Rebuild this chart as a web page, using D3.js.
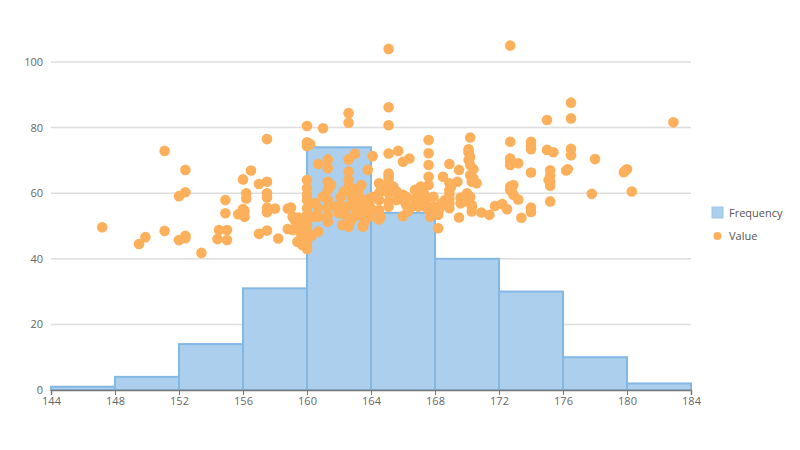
<!DOCTYPE html>
<meta charset="utf-8">
<style>
  body { margin: 0; background: #fff; }
  text { font-family: "Open Sans", sans-serif; }
</style>
<svg width="800" height="450"></svg>
<script src="https://d3js.org/d3.v7.min.js"></script>
<script>

// histogram bins (height, cm) and counts
var binEdges = [144, 148, 152, 156, 160, 164, 168, 172, 176, 180, 184];
var frequency = [1, 4, 14, 31, 74, 54, 40, 30, 10, 2];

var xTicks = [144, 148, 152, 156, 160, 164, 168, 172, 176, 180, 184];
var yTicks = [0, 20, 40, 60, 80, 100];

// scatter points: height and value
var heights = [
  147.2,
  149.5, 149.9, 151.1, 151.1,
  152.0, 152.4, 152.4, 152.0, 152.4, 152.4, 153.4, 154.4, 154.5, 155.0, 155.0, 154.9, 154.9, 155.7,
  156.1, 156.1, 156.2, 156.2, 156.0, 156.5, 157.0, 157.5, 157.5, 157.5, 157.5, 157.5, 157.5, 158.0, 157.0, 157.5,
  158.2, 158.8, 159.0, 158.8, 159.25, 159.45, 159.6, 159.1, 159.6, 159.4, 159.8, 159.8, 159.1, 156.0, 159.7,
  160.0, 160.0, 160.0, 160.0, 160.0, 160.0, 160.0, 160.0, 160.0, 160.0, 160.0, 160.0, 160.0,
  160.2, 160.4, 160.7, 160.7, 160.7, 160.7, 161.0,
  161.3, 161.3, 161.3, 161.3, 161.3, 161.3, 161.3, 161.3,
  162.1, 162.1, 162.1, 162.4, 162.2, 162.0, 162.2,
  162.6, 162.6, 162.6, 162.6, 162.6, 162.6, 162.6,
  162.7, 162.8, 162.8, 162.9, 163.0, 163.0,
  163.1, 163.2, 163.2, 163.3, 163.3, 163.5, 163.5, 163.5,
  163.6, 163.7, 163.8, 163.8, 163.9, 163.9, 163.9,
  160.0, 160.0, 160.3, 160.5, 161.0, 161.5, 162.3, 162.5, 163.0, 163.4, 161.8,
  164.1, 164.1, 164.1, 164.5, 164.5, 164.5, 164.5, 164.5, 164.6, 164.8, 164.6,
  165.1, 165.1, 165.1, 165.1, 165.1, 165.1, 165.1, 165.1, 165.1, 165.1, 165.1,
  165.4, 165.4, 165.6, 165.6, 165.7,
  166.0, 166.0, 166.0, 166.0, 166.1, 166.2, 166.2, 166.3, 166.4, 166.5, 166.75, 166.75, 166.95,
  167.1, 167.1, 167.1, 167.3, 167.4, 167.4, 167.4, 167.6, 167.6, 167.6, 167.6, 167.6, 167.6, 167.7, 167.9, 167.9,
  168.2, 168.2, 168.2, 168.4, 168.5, 168.9, 168.9, 168.9, 168.9, 168.9, 168.9, 169.4, 169.5, 169.5, 169.6, 169.6,
  170.1, 170.1, 170.1, 170.2, 170.2, 170.2, 170.3, 170.4, 170.4, 170.2, 170.3, 170.3, 170.3, 170.9, 171.4, 171.75,
  170.2, 168.9, 169.0, 170.0, 168.6, 169.8, 170.6, 168.3,
  172.2, 172.5, 172.7, 172.7, 172.7, 172.7, 172.7, 172.9, 172.7, 172.9, 173.2, 173.2, 173.4,
  174.0, 174.0, 174.0, 174.0, 174.0, 175.0, 175.0, 175.4, 175.2, 175.2, 175.2, 175.2, 175.2,
  172.8, 172.7, 174.0, 175.1,
  176.5, 176.5, 176.5, 176.5, 176.2, 178.0, 177.8, 179.9, 179.8, 176.3,
  180.3, 182.9, 180.0
];

var values = [
  49.6,
  44.5, 46.6, 72.9, 48.5,
  59.1, 60.3, 67.1, 45.7, 47.0, 46.3, 41.8, 46.0, 48.8, 48.8, 45.7, 57.9, 53.9, 53.6,
  54.6, 52.8, 60.0, 58.4, 64.2, 66.9, 62.8, 63.5, 76.5, 60.0, 58.7, 55.6, 54.2, 55.3, 47.6, 48.6,
  46.2, 55.3, 55.6, 49.1, 51.6, 52.6, 50.3, 48.8, 47.8, 45.2, 46.7, 49.8, 52.8, 55.2, 44.2,
  80.5, 75.5, 74.4, 64.0, 59.5, 57.9, 55.4, 53.4, 51.3, 48.8, 46.2, 44.7, 43.0,
  75.0, 52.8, 68.9, 55.4, 52.8, 48.3, 79.8,
  70.3, 67.6, 63.5, 61.0, 57.9, 55.9, 53.4, 51.3,
  58.9, 56.4, 54.4, 53.4, 50.3, 53.9, 54.9,
  84.4, 81.5, 70.3, 66.6, 64.0, 62.0, 49.8,
  51.3, 59.5, 58.4, 55.9, 72.0, 61.3,
  57.9, 60.5, 55.9, 56.4, 53.4, 50.3, 49.8, 57.9,
  51.3, 55.4, 67.1, 57.9, 58.4, 52.8, 56.4,
  61.5, 50.0, 47.0, 57.0, 59.0, 62.5, 60.5, 55.8, 53.0, 62.5, 56.0,
  71.3, 58.9, 54.9, 63.0, 60.0, 52.0, 57.9, 54.9, 52.8, 62.0, 60.7,
  104.0, 86.2, 80.7, 72.1, 66.0, 65.0, 64.0, 62.0, 60.0, 57.4, 55.9,
  62.0, 60.7, 60.5, 57.9, 72.9,
  69.6, 59.5, 57.9, 53.0, 58.4, 56.4, 58.9, 54.4, 70.6, 55.9, 61.0, 58.4, 55.9,
  62.0, 59.5, 56.9, 60.0, 58.9, 57.4, 55.9, 76.2, 72.2, 68.6, 65.0, 62.5, 54.9, 52.8, 58.9, 55.9,
  49.3, 53.4, 54.4, 56.9, 65.0, 68.9, 63.0, 61.0, 58.4, 56.9, 55.4, 63.5, 67.1, 52.6, 58.7, 56.9,
  73.4, 72.4, 70.1, 77.0, 68.6, 65.5, 63.5, 64.5, 67.3, 58.9, 55.9, 54.4, 56.4, 54.1, 53.4, 56.1,
  71.0, 59.8, 62.0, 60.0, 57.8, 57.5, 63.0, 55.5,
  56.7, 55.1, 105.0, 75.7, 70.6, 68.6, 62.0, 62.5, 61.0, 59.5, 58.1, 69.1, 52.5,
  75.7, 73.4, 66.3, 55.6, 54.3, 82.3, 73.2, 72.5, 67.0, 65.3, 63.5, 62.3, 57.5,
  60.5, 69.5, 74.5, 64.0,
  87.6, 82.8, 73.5, 71.6, 66.9, 70.4, 59.8, 66.9, 66.4, 67.3,
  60.5, 81.6, 67.3
];

var legendLabels = ["Frequency", "Value"];

var svg = d3.select("svg");

var x = d3.scaleLinear()
    .domain([144, 184])
    .range([51, 691]);

var y = d3.scaleLinear()
    .domain([0, 100])
    .range([390, 62]);

// horizontal grid lines
svg.append("g")
    .selectAll("line")
    .data(yTicks.filter(function(d) { return d > 0; }))
    .enter().append("line")
      .attr("x1", x(144))
      .attr("x2", x(184))
      .attr("y1", function(d) { return y(d); })
      .attr("y2", function(d) { return y(d); })
      .attr("stroke", "#dedede")
      .attr("stroke-width", 1.5);

// y axis labels
var yAxis = svg.append("g")
    .attr("transform", "translate(" + (x(144) - 8) + ",0)")
    .call(d3.axisLeft(y).tickValues(yTicks).tickSize(0).tickPadding(0));
yAxis.select(".domain").remove();
yAxis.selectAll("text")
    .attr("fill", "#666")
    .style("font-size", "11px")
    .style("font-family", "'Open Sans', sans-serif");

// histogram bars
var bins = frequency.map(function(f, i) { return {x0: binEdges[i], x1: binEdges[i + 1], count: f}; });

svg.append("g")
    .selectAll("rect")
    .data(bins)
    .enter().append("rect")
      .attr("x", function(d) { return x(d.x0); })
      .attr("width", function(d) { return x(d.x1) - x(d.x0); })
      .attr("y", function(d) { return y(d.count); })
      .attr("height", function(d) { return y(0) - y(d.count); })
      .attr("fill", "#abcfed")
      .attr("stroke", "#84b8e4")
      .attr("stroke-width", 2);

// x axis
var xAxis = svg.append("g")
    .attr("transform", "translate(0," + y(0) + ")")
    .call(d3.axisBottom(x).tickValues(xTicks).tickSize(5).tickPadding(2).tickFormat(d3.format("d")));
xAxis.select(".domain")
    .attr("stroke", "#777")
    .attr("stroke-width", 1.5);
xAxis.selectAll(".tick line").attr("stroke", "#777");
xAxis.selectAll("text")
    .attr("fill", "#666")
    .style("font-size", "11px")
    .style("font-family", "'Open Sans', sans-serif");

// scatter points
svg.append("g")
    .selectAll("circle")
    .data(heights.map(function(h, i) { return [h, values[i]]; }))
    .enter().append("circle")
      .attr("cx", function(d) { return x(d[0]); })
      .attr("cy", function(d) { return y(d[1]); })
      .attr("r", 5.3)
      .attr("fill", "#fcb05b");

// legend
var legend = svg.append("g")
    .attr("transform", "translate(712,213)");

legend.append("rect")
    .attr("x", 0)
    .attr("y", -6)
    .attr("width", 11)
    .attr("height", 11)
    .attr("fill", "#abcfed")
    .attr("stroke", "#9cc6ea");

legend.append("circle")
    .attr("cx", 5.5)
    .attr("cy", 23)
    .attr("r", 4)
    .attr("fill", "#fcb05b");

legend.selectAll("text")
    .data(legendLabels)
    .enter().append("text")
      .attr("x", 17)
      .attr("y", function(d, i) { return i * 23 + 4; })
      .attr("fill", "#555")
      .style("font-size", "11px")
      .text(function(d) { return d; });

</script>
